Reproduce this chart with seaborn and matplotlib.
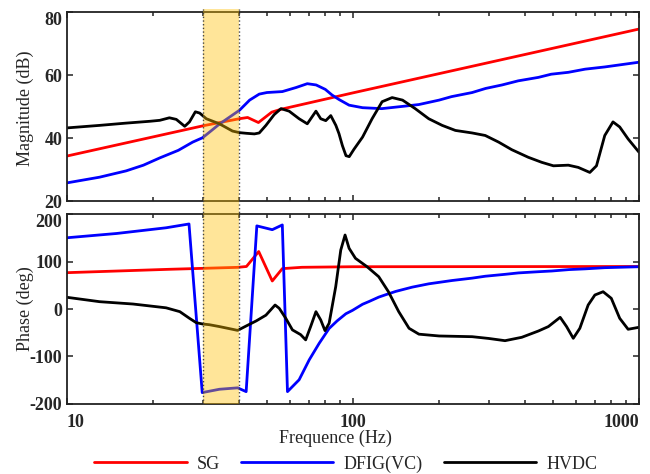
import pandas as pd
import matplotlib
matplotlib.use('Agg')
import matplotlib.pyplot as plt
import matplotlib.transforms as mtransforms
from matplotlib.patches import Rectangle
from matplotlib.lines import Line2D
import seaborn as sns

# ---- magnitude (dB) ----
sg_mag_f = [10, 30, 40, 42.8, 46.7, 52, 56, 100, 1000]
sg_mag = [34.4, 44.0, 46.2, 46.6, 45.0, 48.3, 49.2, 54.4, 74.6]

dfig_mag_f = [10, 13, 16.1, 18.5, 21.1, 24.5, 27.5, 29.8, 34.1, 40.1, 43.5, 47, 50, 56.6, 63.3,
              69.2, 74.3, 80, 84.5, 89.3, 96.9, 108, 126, 152, 170, 200, 221, 261, 291, 332,
              378, 445, 493, 566, 648, 759, 1000]
dfig_mag = [25.9, 27.7, 29.7, 31.5, 33.8, 36.2, 38.8, 40.2, 44.5, 48.9, 52.1, 54.0, 54.5, 54.8, 56.1,
            57.3, 56.9, 55.5, 53.7, 52.3, 50.5, 49.7, 49.4, 50.2, 50.7, 52.1, 53.2, 54.5, 55.8, 56.9,
            58.2, 59.3, 60.3, 60.9, 61.9, 62.6, 64.1]

hvdc_mag_f = [10, 13, 16, 19.5, 21.1, 22.8, 24.1, 25.8, 26.8, 28.1, 29.1, 30.7, 34.1, 37.9, 40.1,
              42.3, 45.2, 47, 49.6, 53, 56, 59.8, 64.8, 69.2, 74.2, 77.1, 80.3, 83.6, 87.1, 89.3,
              91.8, 94.5, 97, 100.7, 108, 116.6, 126.4, 137, 149, 165, 184, 205, 228, 261, 290,
              323, 359, 410, 457, 502, 566, 613, 673, 710, 759, 811, 856, 916, 1000]
hvdc_mag = [43.3, 44.1, 44.8, 45.4, 45.7, 46.5, 46.0, 43.8, 45.2, 48.4, 48.0, 46.2, 44.6, 42.3, 41.8,
            41.6, 41.4, 41.7, 44.1, 47.5, 49.4, 48.6, 46.2, 44.6, 48.6, 46.2, 45.6, 47.2, 44.1, 41.5,
            37.7, 34.5, 34.2, 36.5, 40.4, 46.2, 51.6, 52.9, 52.1, 49.4, 46.2, 44.1, 42.5, 41.7, 40.9,
            38.8, 36.4, 34.0, 32.4, 31.3, 31.5, 30.8, 29.2, 31.3, 40.9, 45.2, 43.6, 39.8, 35.6]

# ---- phase (deg) ----
sg_ph_f = [10, 22.8, 29.8, 39.5, 42.4, 46.8, 52.2, 56.6, 66.3, 100, 1000]
sg_ph = [76.5, 83.6, 85.6, 87.7, 89.5, 121, 59, 85, 87.8, 89, 89.5]

dfig_ph_f = [10, 14.9, 22.2, 26.7, 29.7, 34.1, 39.5, 42.3, 46.1, 52.2, 56.6, 59.0, 64.8, 70.3,
             76.2, 82.5, 88, 94.4, 99.5, 108, 114, 123, 130, 141, 161, 184, 222, 261, 290, 340,
             379, 445, 495, 570, 647, 759, 1000]
dfig_ph = [150, 159, 171, 179, -176, -169, -166, -174, 175, 167, 177, -174, -149, -107,
           -72, -41, -25, -10, -3, 10, 16, 25, 30, 37, 46, 53, 60, 65, 69, 73,
           76, 78.5, 80, 83, 84.5, 87, 89]

hvdc_ph_f = [10, 13, 17, 22.2, 24.8, 26.8, 28.3, 29.8, 31.4, 34.1, 39.5, 42.3, 45.9, 49.6, 53.4,
             55.2, 58.2, 61.4, 65.6, 68.3, 71.1, 74.2, 77.1, 79.8, 82.5, 87, 90.6, 93.8, 96.9,
             102, 112, 123, 133, 144.5, 157, 170, 200, 261, 298, 340, 389, 445, 482, 530, 558,
             589, 621, 664, 701, 749, 800, 856, 916, 1000]
hvdc_ph = [24.6, 15.4, 10.5, 2.5, -5.6, -19.6, -28.8, -31.6, -33, -37, -45, -35.8, -25, -13, 8.4,
           1.5, -19.6, -44, -54, -65, -37, -5.6, -23, -45.6, -30, 47, 124, 155.8, 127.8,
           106.7, 89, 68, 36.4, -5.6, -40.6, -53, -56.8, -58.3, -62, -66.7, -59.6, -46.3, -37, -17.5, -37,
           -61.7, -40.6, 8.4, 29.5, 36.4, 22.5, -19.6, -42.7, -38.5]

names = ['SG', 'DFIG(VC)', 'HVDC']
colors = ['#FF0000', '#0000FF', '#000000']

sns.set_style('ticks')
plt.rcParams['font.family'] = ['Liberation Serif', 'DejaVu Serif']
plt.rcParams['font.size'] = 13
plt.rcParams['axes.linewidth'] = 1.3
plt.rcParams['axes.edgecolor'] = '#222222'
plt.rcParams['axes.unicode_minus'] = False

fig = plt.figure(figsize=(6.5, 4.74), dpi=100)
ax1 = fig.add_axes([0.1031, 0.5749, 0.88, 0.3998])
ax2 = fig.add_axes([0.1031, 0.1477, 0.88, 0.4008])


def draw(ax, f, v, color, label):
    df = pd.DataFrame({'f': f, 'v': v})
    sns.lineplot(data=df, x='f', y='v', ax=ax, color=color, lw=2,
                 estimator=None, sort=False, label=label)


draw(ax1, sg_mag_f, sg_mag, colors[0], names[0])
draw(ax1, dfig_mag_f, dfig_mag, colors[1], names[1])
draw(ax1, hvdc_mag_f, hvdc_mag, colors[2], names[2])
draw(ax2, sg_ph_f, sg_ph, colors[0], names[0])
draw(ax2, dfig_ph_f, dfig_ph, colors[1], names[1])
draw(ax2, hvdc_ph_f, hvdc_ph, colors[2], names[2])

handles, labels = ax1.get_legend_handles_labels()
for ax in (ax1, ax2):
    if ax.get_legend() is not None:
        ax.get_legend().remove()
    ax.set_xscale('log')
    ax.set_xlim(10, 1000)
    ax.tick_params(which='both', direction='in', top=True, right=True, width=1.1,
                   color='#222222', labelsize=13)
    ax.tick_params(which='major', length=4.5)
    ax.tick_params(which='minor', length=3)
    ax.set_xticks([10, 100, 1000], ['10', '100', '1000'])

ax1.tick_params(labelbottom=False)
ax1.set_ylim(20, 80)
ax1.set_yticks([20, 40, 60, 80], ['20', '40', '60', '80'])
ax1.get_yticklabels()[-1].set_va('top')
ax1.set_xlabel('')
ax1.set_ylabel('Magnitude (dB)', fontsize=13)
ax1.yaxis.set_label_coords(-0.058, 0.49)

ax2.set_ylim(-200, 200)
ax2.set_yticks([-200, -100, 0, 100, 200], ['-200', '-100', '0', '100', '200'])
ax2.get_yticklabels()[-1].set_va('top')
ax2.tick_params(axis='x', pad=7)
xl = ax2.get_xticklabels()
xl[0].set_ha('left')
xl[-1].set_ha('right')
ax2.set_ylabel('Phase (deg)', fontsize=13)
ax2.yaxis.set_label_coords(-0.058, 0.5)
ax2.set_xlabel('Frequence (Hz)', fontsize=13)
ax2.xaxis.set_label_coords(0.4685, -0.135)

for ax in (ax1, ax2):
    for t in ax.get_xticklabels() + ax.get_yticklabels():
        t.set_fontweight('bold')

# highlighted band 30-40 Hz across both panels
trans = mtransforms.blended_transform_factory(ax2.transData, fig.transFigure)
y0, y1 = 0.1477, 0.981
fig.add_artist(Rectangle((30, y0), 10, y1 - y0, transform=trans, facecolor='#FFC000',
                         alpha=0.4, edgecolor='none', zorder=10))
for xv in (30, 40):
    fig.add_artist(Line2D([xv, xv], [y0, y1], transform=trans, ls=':', lw=1,
                          color='#444444', zorder=11))

fig.legend(handles, labels, loc='center', bbox_to_anchor=(0.532, 0.021), ncol=3,
           frameon=False, handlelength=5.1, handletextpad=0.55, columnspacing=1.2,
           fontsize=13, borderpad=0.2)

fig.savefig('out.png', dpi=100)
